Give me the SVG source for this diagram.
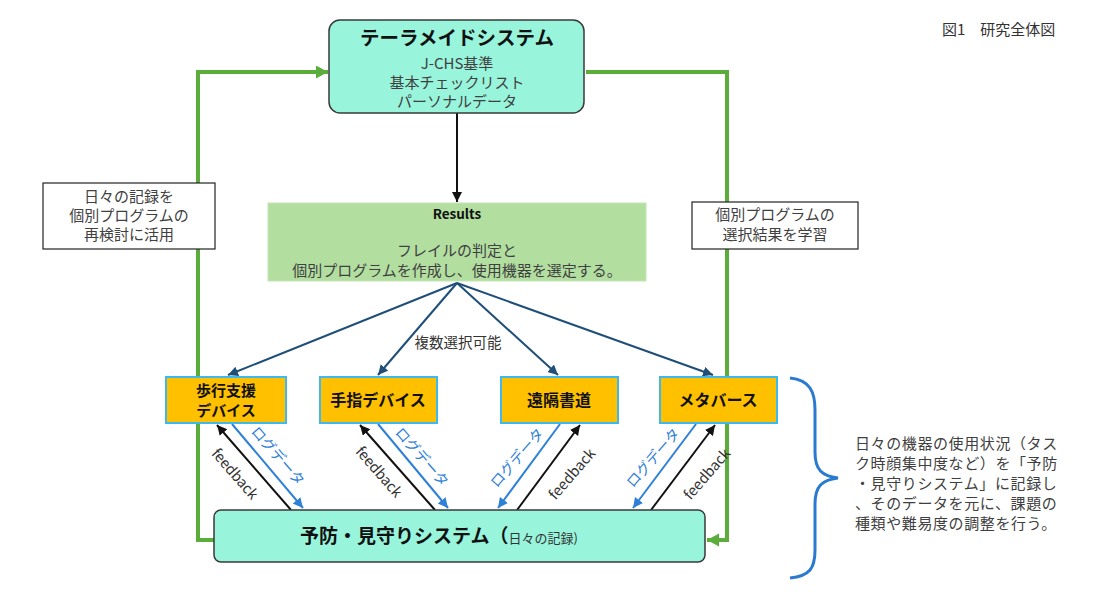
<svg xmlns="http://www.w3.org/2000/svg" width="1100" height="600" viewBox="0 0 1100 600">
<style>
text{font-family:"Noto Sans CJK JP","Noto Sans",sans-serif;}
.aqua{fill:#98f5dc;stroke:#3a3a3a;stroke-width:1.5;}
.org{fill:#ffc000;stroke:#3fb8ee;stroke-width:2;}
.lbl{fill:#fff;stroke:#222;stroke-width:1.2;}
.t15{font-size:15px;fill:#404040;text-anchor:middle;}
.tb{font-weight:bold;fill:#111;text-anchor:middle;}
.green{fill:none;stroke:#5aad3a;stroke-width:4;}
.blk{stroke:#111;stroke-width:2;fill:none;}
.blu{stroke:#2e80d8;stroke-width:2;fill:none;}
.dblu{stroke:#1f4e79;stroke-width:2;fill:none;}
.fb{font-size:14.5px;fill:#333;text-anchor:middle;}
.lg{font-size:14.5px;fill:#2e80d8;text-anchor:middle;}
</style>
<defs>
<marker id="mB" markerUnits="userSpaceOnUse" markerWidth="12" markerHeight="12" refX="10" refY="5" orient="auto"><path d="M0,0 L10,5 L0,10 Z" fill="#111"/></marker>
<marker id="mL" markerUnits="userSpaceOnUse" markerWidth="12" markerHeight="12" refX="10" refY="5" orient="auto"><path d="M0,0 L10,5 L0,10 Z" fill="#2e80d8"/></marker>
<marker id="mD" markerUnits="userSpaceOnUse" markerWidth="12" markerHeight="12" refX="10" refY="5" orient="auto"><path d="M0,0 L10,5 L0,10 Z" fill="#1f4e79"/></marker>
<marker id="mG" markerUnits="userSpaceOnUse" markerWidth="14" markerHeight="14" refX="12" refY="6.5" orient="auto"><path d="M0,0 L12,6.5 L0,13 Z" fill="#5aad3a"/></marker>
</defs>

<g id="connectors">
<polyline class="green" points="214,540 198,540 198,72 328,72" marker-end="url(#mG)"/>
<polyline class="green" points="586,72 727,72 727,540 707,540" marker-end="url(#mG)"/>
<line class="blk" x1="457" y1="113" x2="457" y2="202" marker-end="url(#mB)"/>
<line class="dblu" x1="457" y1="283" x2="228" y2="375" marker-end="url(#mD)"/>
<line class="dblu" x1="457" y1="283" x2="378" y2="375" marker-end="url(#mD)"/>
<line class="dblu" x1="457" y1="283" x2="558" y2="375" marker-end="url(#mD)"/>
<line class="dblu" x1="457" y1="283" x2="713" y2="375" marker-end="url(#mD)"/>
<text class="fb" x="458" y="348" fill="#404040">複数選択可能</text>
<line class="blk" x1="291" y1="510" x2="217" y2="425" marker-end="url(#mB)"/>
<line class="blu" x1="232" y1="424" x2="303" y2="508" marker-end="url(#mL)"/>
<line class="blk" x1="435" y1="510" x2="360" y2="425" marker-end="url(#mB)"/>
<line class="blu" x1="378" y1="424" x2="448" y2="508" marker-end="url(#mL)"/>
<line class="blu" x1="560" y1="424" x2="498" y2="508" marker-end="url(#mL)"/>
<line class="blk" x1="517" y1="510" x2="580" y2="425" marker-end="url(#mB)"/>
<line class="blu" x1="696" y1="424" x2="633" y2="508" marker-end="url(#mL)"/>
<line class="blk" x1="651" y1="510" x2="715" y2="425" marker-end="url(#mB)"/>
<text class="fb" transform="translate(236,473) rotate(49)" dominant-baseline="central">feedback</text>
<text class="lg" transform="translate(279,455) rotate(49)" dominant-baseline="central">ログデータ</text>
<text class="fb" transform="translate(380,471) rotate(49)" dominant-baseline="central">feedback</text>
<text class="lg" transform="translate(423,456) rotate(49)" dominant-baseline="central">ログデータ</text>
<text class="lg" transform="translate(516,457) rotate(-49)" dominant-baseline="central">ログデータ</text>
<text class="fb" transform="translate(571,473) rotate(-49)" dominant-baseline="central">feedback</text>
<text class="lg" transform="translate(652,457) rotate(-49)" dominant-baseline="central">ログデータ</text>
<text class="fb" transform="translate(706,473) rotate(-49)" dominant-baseline="central">feedback</text>
</g>

<g id="tailormade">
<rect class="aqua" x="329" y="20" width="255" height="93" rx="11"/>
<text class="tb" x="457" y="45" font-size="19.5">テーラメイドシステム</text>
<text class="t15" x="457" y="69" font-size="14.5">J-CHS基準</text>
<text class="t15" x="457" y="88" font-size="14.5">基本チェックリスト</text>
<text class="t15" x="457" y="107" font-size="14.5">パーソナルデータ</text>
</g>

<g id="results">
<rect x="268" y="203" width="378" height="78" fill="#b2dea0" stroke="#c4e6b6" stroke-width="1"/>
<text class="tb" x="457" y="219" font-size="13.5">Results</text>
<text class="t15" x="457" y="256" font-size="15.5">フレイルの判定と</text>
<text class="t15" x="457" y="276" font-size="15.5">個別プログラムを作成し、使用機器を選定する。</text>
</g>

<g id="walk">
<rect class="org" x="166" y="377" width="120" height="46"/>
<text class="tb" x="226" y="396" font-size="15">歩行支援</text>
<text class="tb" x="226" y="416" font-size="15">デバイス</text>
</g>
<g id="finger">
<rect class="org" x="320" y="377" width="117" height="46"/>
<text class="tb" x="378" y="406" font-size="16">手指デバイス</text>
</g>
<g id="shodo">
<rect class="org" x="501" y="377" width="117" height="46"/>
<text class="tb" x="559" y="406" font-size="16">遠隔書道</text>
</g>
<g id="metaverse">
<rect class="org" x="660" y="377" width="117" height="46"/>
<text class="tb" x="718" y="406" font-size="16">メタバース</text>
</g>

<g id="prevention">
<rect class="aqua" x="214" y="510" width="491" height="52" rx="7"/>
<text x="300" y="543" font-size="19" font-weight="bold" fill="#111">予防・見守りシステム（<tspan font-size="13" font-weight="normal" fill="#333">日々の記録)</tspan></text>
</g>

<g id="label-left">
<rect class="lbl" x="43" y="183" width="172" height="66"/>
<text class="t15" x="129" y="202">日々の記録を</text>
<text class="t15" x="129" y="221">個別プログラムの</text>
<text class="t15" x="129" y="240">再検討に活用</text>
</g>
<g id="label-right">
<rect class="lbl" x="692" y="202" width="166" height="47"/>
<text class="t15" x="775" y="220">個別プログラムの</text>
<text class="t15" x="775" y="240">選択結果を学習</text>
</g>

<g id="brace">
<path d="M790,378 C810,380 815,392 815,410 L815,452 C815,470 822,476 838,478 C822,480 815,486 815,504 L815,550 C815,568 810,576 790,578" fill="none" stroke="#2a7ad0" stroke-width="3"/>
</g>
<g id="note">
<text x="855" y="449" font-size="15" fill="#404040" letter-spacing="0.6">日々の機器の使用状況（タス</text>
<text x="855" y="469" font-size="15" fill="#404040" letter-spacing="0.6">ク時顔集中度など）を「予防</text>
<text x="855" y="489" font-size="15" fill="#404040" letter-spacing="0.6">・見守りシステム」に記録し</text>
<text x="855" y="509" font-size="15" fill="#404040" letter-spacing="0.6">、そのデータを元に、課題の</text>
<text x="855" y="529" font-size="15" fill="#404040" letter-spacing="0.6">種類や難易度の調整を行う。</text>
</g>
<g id="title">
<text x="942" y="35" font-size="15" fill="#333">図1　研究全体図</text>
</g>
</svg>
